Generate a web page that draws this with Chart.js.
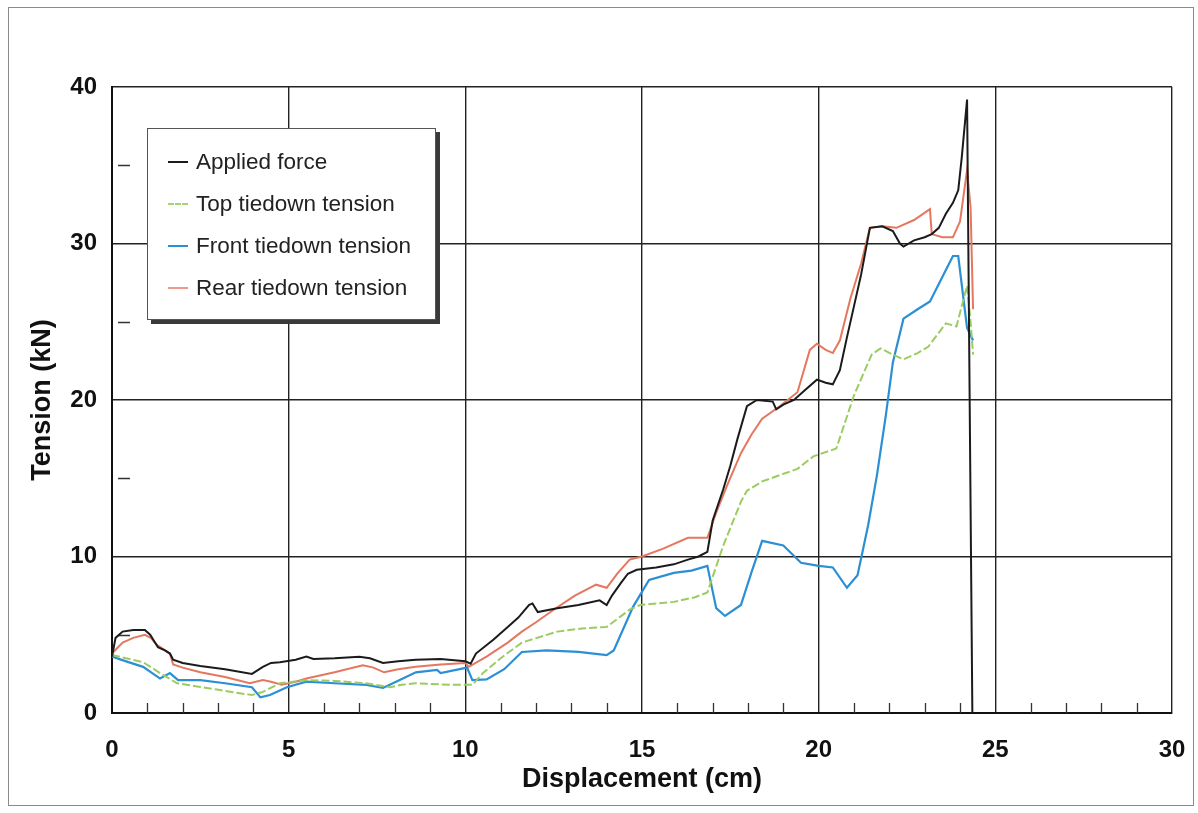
<!DOCTYPE html>
<html>
<head>
<meta charset="utf-8">
<script src="https://cdn.jsdelivr.net/npm/chart.js@4.4.1/dist/chart.umd.min.js"></script>
<style>
  html, body { margin:0; padding:0; background:#fff; }
  #wrap { position:relative; width:1198px; height:813px; overflow:hidden; }
  #frame { position:absolute; left:8px; top:7px; width:1184px; height:797px; border:1.5px solid #8a8a8a; }
  canvas { position:absolute; left:0; top:0; }
  #legend { position:absolute; left:147px; top:128px; width:287px; height:190px; border:1.5px solid #555; background:#fff; box-shadow:4px 4px 0 #3a3a3a; font-family:"Liberation Sans", Arial, sans-serif; font-size:22.5px; color:#222; }
  .row { position:absolute; left:0; height:26px; line-height:26px; }
  .row span.s { position:absolute; left:20px; top:12px; width:20px; height:0; border-top:2px solid; }
  .row span.t { position:absolute; left:48px; top:0; white-space:nowrap; }
</style>
</head>
<body>
<div id="wrap">
  <div id="frame"></div>
  <canvas id="c" width="1198" height="813"></canvas>
  <div id="legend">
    <div class="row" style="top:20px"><span class="s" style="border-color:#1b1b1b"></span><span class="t">Applied force</span></div>
    <div class="row" style="top:62px"><span class="s" style="border-color:#a6d274;border-top-style:dashed"></span><span class="t">Top tiedown tension</span></div>
    <div class="row" style="top:104px"><span class="s" style="border-color:#2b8fd6"></span><span class="t">Front tiedown tension</span></div>
    <div class="row" style="top:146px"><span class="s" style="border-color:#ef9a88"></span><span class="t">Rear tiedown tension</span></div>
  </div>
</div>
<script>
const xTicks = [0, 5, 10, 15, 20, 25, 30];
const yTicks = [0, 10, 20, 30, 40];

const appliedX = [0,0.1,0.3,0.6,0.93,1.08,1.3,1.5,1.64,1.73,2.0,2.5,3.2,3.96,4.27,4.5,4.75,5.2,5.5,5.7,6.3,7.0,7.3,7.67,8.1,8.6,9.3,10.0,10.15,10.3,10.8,11.2,11.5,11.8,11.9,12.05,12.6,13.2,13.8,14.0,14.15,14.4,14.6,14.85,15.4,15.9,16.3,16.6,16.85,17.0,17.3,17.5,17.7,17.97,18.25,18.7,18.8,19.0,19.3,19.6,19.95,20.2,20.4,20.6,20.8,21.0,21.2,21.45,21.8,22.1,22.3,22.4,22.7,23.0,23.2,23.4,23.6,23.8,23.95,24.05,24.2,24.35];
const appliedY = [3.6,4.8,5.2,5.3,5.3,5.0,4.2,4.0,3.8,3.4,3.2,3.0,2.8,2.5,2.95,3.2,3.25,3.4,3.6,3.45,3.5,3.6,3.5,3.2,3.3,3.4,3.45,3.3,3.15,3.8,4.7,5.5,6.1,6.9,7.0,6.45,6.7,6.9,7.2,6.9,7.5,8.3,8.9,9.15,9.3,9.5,9.8,10.0,10.3,12.3,14.3,15.8,17.5,19.6,20.0,19.9,19.4,19.7,20.0,20.6,21.3,21.1,21.0,21.9,24.0,26.0,28.0,31.0,31.1,30.8,30.0,29.8,30.2,30.4,30.6,31.0,31.9,32.6,33.4,35.5,39.2,0];

const topX = [0,0.4,0.88,1.36,1.84,2.4,2.97,3.5,3.96,4.27,4.75,5.5,6.3,7.2,7.87,8.2,8.6,9.6,10.05,10.2,10.5,11.0,11.6,12.6,13.3,14.0,14.65,14.95,15.9,16.5,16.85,17.3,17.8,17.97,18.4,18.9,19.4,19.85,20.5,21.0,21.5,21.75,22.1,22.4,22.8,23.1,23.6,23.9,24.2,24.3,24.37];
const topY = [3.7,3.5,3.25,2.55,1.9,1.7,1.5,1.3,1.15,1.35,1.9,2.1,2.05,1.9,1.65,1.8,1.9,1.8,1.8,1.8,2.55,3.5,4.5,5.2,5.4,5.5,6.6,6.9,7.1,7.4,7.7,10.7,13.5,14.2,14.8,15.2,15.6,16.4,16.9,20.3,22.9,23.3,22.9,22.6,23.0,23.4,24.9,24.7,27.3,25.0,22.9];

const frontX = [0,0.4,0.88,1.36,1.64,1.87,2.5,3.2,3.96,4.2,4.47,4.95,5.5,6.3,7.2,7.67,7.95,8.6,9.2,9.3,10.05,10.2,10.6,11.1,11.6,12.3,13.2,14.0,14.2,14.75,15.2,15.9,16.4,16.85,17.1,17.35,17.8,18.1,18.4,19.0,19.5,20.0,20.4,20.8,21.1,21.4,21.65,21.9,22.1,22.4,22.8,23.15,23.6,23.8,23.95,24.2,24.37];
const frontY = [3.6,3.3,2.95,2.2,2.55,2.1,2.1,1.9,1.65,1.0,1.15,1.65,2.0,1.9,1.8,1.6,1.9,2.6,2.75,2.55,2.9,2.1,2.15,2.8,3.9,4.0,3.9,3.7,4.0,6.8,8.5,8.95,9.1,9.4,6.7,6.2,6.9,9.0,11.0,10.7,9.6,9.4,9.3,8.0,8.8,12.0,15.2,19.0,22.4,25.2,25.8,26.3,28.3,29.2,29.2,24.6,23.8];

const rearX = [0,0.3,0.6,0.93,1.1,1.27,1.5,1.64,1.73,2.0,2.5,3.2,3.9,4.27,4.5,4.8,5.2,5.5,6.3,7.1,7.4,7.7,8.1,8.6,9.3,10.0,10.1,10.6,11.2,11.6,12.0,12.5,13.1,13.7,14.0,14.3,14.65,15.0,15.6,16.3,16.85,17.1,17.4,17.8,18.1,18.4,18.9,19.4,19.75,19.95,20.2,20.4,20.6,20.9,21.2,21.45,21.8,22.2,22.7,23.15,23.2,23.5,23.8,24.0,24.2,24.3,24.37];
const rearY = [3.8,4.5,4.8,5.0,4.8,4.35,4.0,3.8,3.1,2.9,2.6,2.3,1.9,2.1,2.0,1.8,2.0,2.2,2.6,3.05,2.9,2.6,2.8,2.95,3.1,3.2,2.95,3.6,4.5,5.2,5.8,6.6,7.5,8.2,8.0,8.9,9.8,10.0,10.5,11.2,11.2,12.8,14.5,16.6,17.8,18.8,19.6,20.5,23.2,23.6,23.2,23.0,23.8,26.5,28.7,31.0,31.1,31.0,31.5,32.2,30.6,30.4,30.4,31.4,34.7,32.3,25.8];

const pts = (xs, ys) => xs.map((x, i) => ({ x, y: ys[i] }));
const FONT = '"Liberation Sans", Arial, Helvetica, sans-serif';
Chart.defaults.font.family = FONT;

const minorTicks = {
  id: 'minorTicks',
  beforeDatasetsDraw(chart) {
    const { ctx, chartArea: a, scales: { x, y } } = chart;
    ctx.save();
    ctx.strokeStyle = '#333';
    ctx.lineWidth = 1.3;
    ctx.beginPath();
    for (let v = 1; v < 30; v++) {
      if (v % 5 === 0) continue;
      const px = Math.round(x.getPixelForValue(v)) + 0.5;
      ctx.moveTo(px, a.bottom); ctx.lineTo(px, a.bottom - 10);
    }
    [5, 15, 25, 35].forEach(v => {
      const py = Math.round(y.getPixelForValue(v)) + 0.5;
      ctx.moveTo(a.left + 6, py); ctx.lineTo(a.left + 18, py);
    });
    ctx.stroke();
    ctx.restore();
  }
};

new Chart(document.getElementById('c'), {
  type: 'scatter',
  data: {
    datasets: [
      { label: 'Applied force', data: pts(appliedX, appliedY), borderColor: '#1b1b1b', borderWidth: 2 },
      { label: 'Top tiedown tension', data: pts(topX, topY), borderColor: '#9ccb62', borderWidth: 2, borderDash: [8, 3] },
      { label: 'Front tiedown tension', data: pts(frontX, frontY), borderColor: '#2b8fd6', borderWidth: 2.2 },
      { label: 'Rear tiedown tension', data: pts(rearX, rearY), borderColor: '#e5775f', borderWidth: 2 }
    ].map(d => Object.assign(d, { showLine: true, pointRadius: 0, tension: 0, fill: false }))
  },
  options: {
    responsive: false,
    animation: false,
    devicePixelRatio: 1,
    layout: { padding: { left: 0, top: 87, right: 26, bottom: 0 } },
    plugins: { legend: { display: false }, tooltip: { enabled: false } },
    scales: {
      x: {
        type: 'linear', min: 0, max: 30,
        afterBuildTicks: s => { s.ticks = xTicks.map(v => ({ value: v })); },
        afterFit: s => { s.height = 100; s.paddingLeft = 0; s.paddingRight = 0; },
        ticks: { color: '#111', font: { size: 24, weight: 'bold' }, padding: 23, maxRotation: 0 },
        grid: { color: '#222', lineWidth: 1.4, drawTicks: false },
        border: { color: '#111', width: 2 },
        title: { display: true, text: 'Displacement (cm)', color: '#111', font: { size: 27, weight: 'bold' }, padding: { top: 0, bottom: 17 } }
      },
      y: {
        type: 'linear', min: 0, max: 40,
        afterBuildTicks: s => { s.ticks = yTicks.map(v => ({ value: v })); },
        afterFit: s => { s.width = 112; s.paddingTop = 0; s.paddingBottom = 0; },
        ticks: { color: '#111', font: { size: 24, weight: 'bold' }, padding: 15 },
        grid: { color: '#222', lineWidth: 1.4, drawTicks: false },
        border: { color: '#111', width: 2 },
        title: { display: true, text: 'Tension (kN)', color: '#111', font: { size: 27, weight: 'bold' }, padding: { top: 26, bottom: 0 } }
      }
    }
  },
  plugins: [minorTicks]
});
</script>
</body>
</html>
